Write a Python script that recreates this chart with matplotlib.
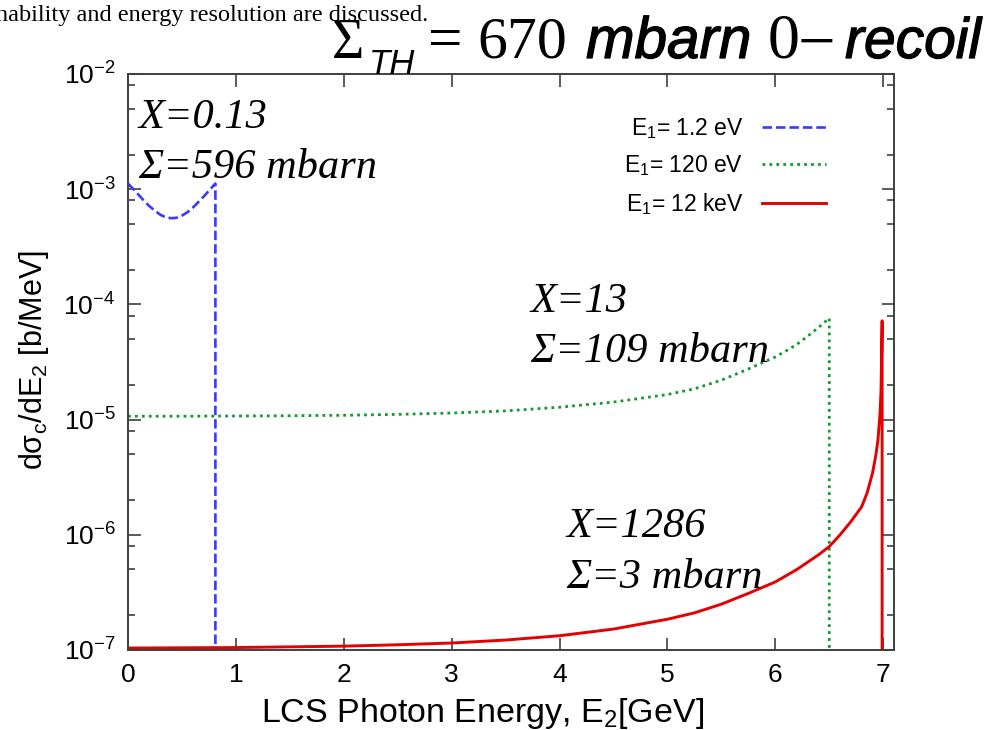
import numpy as np
import matplotlib
matplotlib.use("Agg")
import matplotlib.pyplot as plt
import matplotlib.patheffects as pe
from matplotlib.ticker import LogLocator, FixedLocator, NullFormatter, FuncFormatter

plt.rcParams['font.family'] = ['Liberation Sans', 'DejaVu Sans']
plt.rcParams['mathtext.fontset'] = 'custom'
plt.rcParams['mathtext.rm'] = 'Liberation Serif'
plt.rcParams['mathtext.it'] = 'Liberation Sans:italic'
plt.rcParams['mathtext.sf'] = 'Liberation Sans'

# E1 = 1.2 eV  (X = 0.13)
e1_low_x = [0, 0.05, 0.1, 0.15, 0.2, 0.25, 0.3, 0.35, 0.4, 0.45, 0.5,
            0.55, 0.6, 0.65, 0.7, 0.75, 0.81, 0.81]
e1_low_y = [1.12e-3, 1.0e-3, 8.9e-4, 7.9e-4, 7.1e-4, 6.5e-4, 6.0e-4, 5.7e-4,
            5.6e-4, 5.65e-4, 5.9e-4, 6.3e-4, 6.9e-4, 7.7e-4, 8.6e-4, 9.7e-4,
            1.12e-3, 1e-7]

# E1 = 120 eV  (X = 13)
e1_mid_x = [0, 0.5, 1, 1.5, 2, 2.5, 3, 3.5, 4, 4.5, 5, 5.25, 5.5, 5.75,
            6, 6.1, 6.2, 6.3, 6.4, 6.5, 6.5]
e1_mid_y = [1.07e-5, 1.07e-5, 1.075e-5, 1.08e-5, 1.09e-5, 1.11e-5, 1.14e-5,
            1.19e-5, 1.28e-5, 1.42e-5, 1.65e-5, 1.85e-5, 2.2e-5, 2.75e-5,
            3.5e-5, 3.95e-5, 4.5e-5, 5.3e-5, 6.3e-5, 7.6e-5, 1e-7]

# E1 = 12 keV  (X = 1286)
e1_high_x = [0, 0.5, 1, 1.5, 2, 2.5, 3, 3.5, 4, 4.5, 5, 5.25, 5.5, 5.75, 6,
             6.2, 6.4, 6.5, 6.6, 6.7, 6.8, 6.85, 6.9, 6.93, 6.95, 6.97, 6.98,
             6.99, 6.99]
e1_high_y = [1.04e-7, 1.045e-7, 1.05e-7, 1.065e-7, 1.08e-7, 1.11e-7, 1.15e-7,
             1.22e-7, 1.33e-7, 1.52e-7, 1.85e-7, 2.1e-7, 2.5e-7, 3.1e-7, 3.9e-7,
             5.0e-7, 6.7e-7, 7.9e-7, 1.0e-6, 1.3e-6, 1.75e-6, 2.3e-6, 3.4e-6,
             4.8e-6, 6.5e-6, 1.1e-5, 1.8e-5, 7.2e-5, 1e-7]

labels = [r'E$_\mathsf{1}$= 1.2 eV', r'E$_\mathsf{1}$= 120 eV', r'E$_\mathsf{1}$= 12 keV']
x_ticks = [0, 1, 2, 3, 4, 5, 6, 7]
y_exps = [-7, -6, -5, -4, -3, -2]

W, H = 986, 730
fig = plt.figure(figsize=(W/100, H/100), dpi=100)
ax = fig.add_axes([128/W, 1-650/H, (894-128)/W, (650-74)/H])

l1, = ax.plot(e1_low_x, e1_low_y, color='#3a3aff', lw=1.9,
              linestyle=(0, (3.6, 1.5)), label=labels[0])
l2, = ax.plot(e1_mid_x, e1_mid_y, color='#109a30', lw=2.0,
              linestyle=(0, (1, 1.5)), label=labels[1])
l3, = ax.plot(e1_high_x, e1_high_y, color='#e60000', lw=2.1, label=labels[2])

ax.set_yscale('log')
ax.set_xlim(0, 7.1)
ax.set_ylim(1e-7, 1e-2)
ax.xaxis.set_major_locator(FixedLocator(x_ticks))
ax.yaxis.set_major_locator(FixedLocator([10.0**e for e in y_exps]))
ax.yaxis.set_minor_locator(LogLocator(base=10, subs=(2, 5, 8)))
ax.yaxis.set_minor_formatter(NullFormatter())
ax.yaxis.set_major_formatter(FuncFormatter(
    lambda v, p: r'$\mathsf{10^{%d}}$' % round(np.log10(v))))

ax.tick_params(which='both', direction='in', top=True, right=True,
               color='#404040', width=1.2)
ax.tick_params(which='major', length=9, labelsize=19, pad=9)
ax.tick_params(which='minor', length=5)
for s in ax.spines.values():
    s.set_color('#404040')
    s.set_linewidth(1.4)

fig.text(483/W, 1-722/H, r'LCS Photon Energy, E$_\mathsf{2}$[GeV]',
         fontsize=24.5, ha='center', va='baseline')
fig.text(34/W, 1-360/H, r'dσ$_\mathsf{c}$/dE$_\mathsf{2}$ [b/MeV]',
         fontsize=22, rotation=90, ha='center', va='center')

ax.legend(handles=[l1, l2, l3], loc='upper right',
          bbox_to_anchor=(826/W, 1-116/H), bbox_transform=fig.transFigure,
          frameon=False, markerfirst=False, fontsize=16.5, handlelength=2.8,
          handletextpad=0.8, labelspacing=0.55, borderpad=0, borderaxespad=0)

# annotations for each spectrum
note = dict(family='Liberation Serif', style='italic', fontsize=30.5,
            ha='left', va='baseline')
fig.text(138/W, 1-128/H, 'X=0.13', **note)
fig.text(138/W, 1-178/H, 'Σ=596 mbarn', **note)
fig.text(530/W, 1-312/H, 'X=13', **note)
fig.text(530/W, 1-362/H, 'Σ=109 mbarn', **note)
fig.text(566/W, 1-537/H, 'X=1286', **note)
fig.text(566/W, 1-588/H, 'Σ=3 mbarn', **note)

# header formula, built piece by piece
serif = dict(family='Liberation Serif', ha='left', va='baseline')
sans_it = dict(family='Liberation Sans', style='italic', ha='left', va='baseline',
               path_effects=[pe.withStroke(linewidth=0.9, foreground='black')])
fig.text(332/W, 1-58/H, 'Σ', fontsize=40, **serif)
fig.text(369/W, 1-74/H, 'TH', fontsize=25, family='Liberation Sans',
         style='italic', ha='left', va='baseline')
fig.text(428/W, 1-58/H, '=', fontsize=44, **serif)
fig.text(477/W, 1-58/H, '670', fontsize=43, **serif)
fig.text(586/W, 1-58/H, 'mbarn', fontsize=42, **sans_it)
fig.text(768/W, 1-58/H, '0', fontsize=46, **serif)
fig.text(798/W, 1-63/H, '\u2212', fontsize=48, **serif)
fig.text(845/W, 1-58/H, 'recoil', fontsize=41, **sans_it)

fig.text(-4/W, 1-21/H, 'nability and energy resolution are discussed.',
         family='Liberation Serif', fontsize=17.5, ha='left', va='baseline')

fig.savefig('out.png', dpi=100)
